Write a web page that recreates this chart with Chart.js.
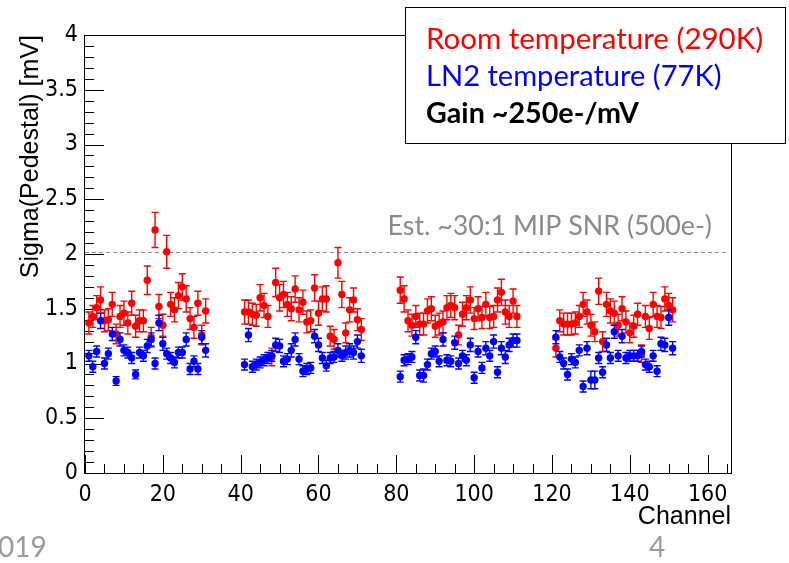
<!DOCTYPE html>
<html>
<head>
<meta charset="utf-8">
<script src="https://cdn.jsdelivr.net/npm/chart.js@4.4.0/dist/chart.umd.min.js"></script>
<style>
  html, body { margin: 0; padding: 0; background: #fff; }
  #wrap { width: 789px; height: 563px; }
</style>
</head>
<body>
<div id="wrap"><canvas id="pedChart" width="789" height="563"></canvas></div>
<script>
// channel numbers (4 chips x 31 channels)
const channels = [
  1, 2, 3, 4, 5, 6, 7, 8, 9, 10, 11, 12, 13, 14, 15, 16, 17, 18, 19, 20, 21, 22, 23, 24, 25, 26, 27, 28, 29, 30, 31,
  41, 42, 43, 44, 45, 46, 47, 48, 49, 50, 51, 52, 53, 54, 55, 56, 57, 58, 59, 60, 61, 62, 63, 64, 65, 66, 67, 68, 69, 70, 71,
  81, 82, 83, 84, 85, 86, 87, 88, 89, 90, 91, 92, 93, 94, 95, 96, 97, 98, 99, 100, 101, 102, 103, 104, 105, 106, 107, 108, 109, 110, 111,
  121, 122, 123, 124, 125, 126, 127, 128, 129, 130, 131, 132, 133, 134, 135, 136, 137, 138, 139, 140, 141, 142, 143, 144, 145, 146, 147, 148, 149, 150, 151
];

// room temperature (290K), sigma in mV
const roomSigma = [
  1.37, 1.43, 1.51, 1.58, 1.39, 1.40, 1.54, 1.27, 1.43, 1.46, 1.37, 1.55, 1.34, 1.39, 1.39, 1.76, 1.24, 2.22, 1.52, 1.35, 2.02, 1.54, 1.49, 1.62, 1.70, 1.59, 1.41, 1.33, 1.55, 1.26, 1.48,
  1.47, 1.47, 1.45, 1.44, 1.60, 1.53, 1.43, 1.06, 1.74, 1.60, 1.63, 1.54, 1.50, 1.68, 1.49, 1.56, 1.38, 1.39, 1.69, 1.46, 1.59, 1.59, 1.25, 1.22, 1.92, 1.63, 1.28, 1.49, 1.58, 1.40, 1.31,
  1.67, 1.59, 1.39, 1.35, 1.43, 1.36, 1.36, 1.48, 1.50, 1.34, 1.36, 1.38, 1.51, 1.53, 1.51, 1.26, 1.45, 1.51, 1.58, 1.41, 1.50, 1.42, 1.54, 1.42, 1.43, 1.58, 1.65, 1.47, 1.43, 1.57, 1.43,
  1.14, 1.39, 1.36, 1.36, 1.36, 1.37, 1.43, 1.54, 1.47, 1.35, 1.29, 1.66, 1.20, 1.54, 1.48, 1.46, 1.35, 1.50, 1.38, 1.28, 1.34, 1.45, 1.09, 1.43, 1.32, 1.54, 1.43, 1.42, 1.59, 1.53, 1.49
];
const roomErr = [
  0.10, 0.10, 0.11, 0.12, 0.10, 0.10, 0.11, 0.09, 0.10, 0.11, 0.10, 0.11, 0.10, 0.10, 0.10, 0.13, 0.09, 0.16, 0.11, 0.10, 0.15, 0.11, 0.11, 0.12, 0.12, 0.12, 0.10, 0.10, 0.11, 0.09, 0.11,
  0.11, 0.11, 0.10, 0.10, 0.12, 0.11, 0.10, 0.08, 0.13, 0.12, 0.12, 0.11, 0.11, 0.12, 0.11, 0.11, 0.10, 0.10, 0.12, 0.11, 0.11, 0.12, 0.09, 0.09, 0.14, 0.12, 0.09, 0.11, 0.11, 0.10, 0.10,
  0.12, 0.12, 0.10, 0.10, 0.10, 0.10, 0.10, 0.11, 0.11, 0.10, 0.10, 0.10, 0.11, 0.11, 0.11, 0.09, 0.11, 0.11, 0.12, 0.10, 0.11, 0.10, 0.11, 0.10, 0.10, 0.11, 0.12, 0.11, 0.10, 0.11, 0.10,
  0.08, 0.10, 0.10, 0.10, 0.10, 0.10, 0.10, 0.11, 0.11, 0.10, 0.09, 0.12, 0.09, 0.11, 0.11, 0.11, 0.10, 0.11, 0.10, 0.09, 0.10, 0.10, 0.08, 0.10, 0.10, 0.11, 0.10, 0.10, 0.11, 0.11, 0.11
];

// LN2 temperature (77K), sigma in mV
const ln2Sigma = [
  1.07, 0.97, 1.11, 1.39, 1.00, 1.09, 1.27, 0.84, 1.22, 1.12, 1.10, 1.05, 0.90, 1.10, 1.07, 1.16, 1.22, 1.00, 1.37, 1.18, 1.09, 1.05, 1.01, 1.10, 1.10, 1.22, 0.95, 1.02, 0.95, 1.24, 1.12,
  0.99, 1.26, 0.97, 0.99, 1.01, 1.03, 1.05, 1.07, 1.17, 1.16, 1.02, 1.04, 1.12, 1.22, 1.04, 0.93, 0.95, 0.96, 1.25, 1.17, 1.05, 0.98, 1.05, 1.06, 1.12, 1.07, 1.10, 1.12, 1.10, 1.20, 1.07,
  0.88, 1.03, 1.04, 1.06, 1.24, 0.89, 0.89, 0.99, 1.09, 1.11, 1.02, 1.22, 1.03, 1.02, 1.19, 1.00, 1.07, 1.03, 1.17, 0.87, 1.11, 0.96, 1.14, 1.07, 1.20, 0.92, 1.14, 1.06, 1.17, 1.21, 1.21,
  1.24, 1.06, 1.00, 0.90, 1.04, 1.01, 1.12, 0.79, 1.14, 0.85, 0.85, 1.05, 0.92, 1.17, 1.05, 1.29, 1.07, 1.25, 1.05, 1.07, 1.07, 1.07, 1.11, 0.99, 0.97, 1.07, 0.93, 1.18, 1.17, 1.42, 1.14
];
const ln2Err = [
  0.05, 0.05, 0.05, 0.07, 0.05, 0.05, 0.06, 0.04, 0.06, 0.05, 0.05, 0.05, 0.04, 0.05, 0.05, 0.06, 0.06, 0.05, 0.07, 0.06, 0.05, 0.05, 0.05, 0.05, 0.05, 0.06, 0.05, 0.05, 0.05, 0.06, 0.06,
  0.05, 0.06, 0.05, 0.05, 0.05, 0.05, 0.05, 0.05, 0.06, 0.06, 0.05, 0.05, 0.06, 0.06, 0.05, 0.05, 0.05, 0.05, 0.06, 0.06, 0.05, 0.05, 0.05, 0.05, 0.06, 0.05, 0.06, 0.06, 0.06, 0.06, 0.06,
  0.05, 0.05, 0.05, 0.05, 0.06, 0.05, 0.06, 0.05, 0.05, 0.05, 0.05, 0.06, 0.05, 0.05, 0.06, 0.05, 0.05, 0.05, 0.06, 0.05, 0.05, 0.05, 0.06, 0.05, 0.06, 0.05, 0.06, 0.06, 0.06, 0.06, 0.06,
  0.06, 0.05, 0.05, 0.05, 0.05, 0.05, 0.05, 0.05, 0.06, 0.08, 0.08, 0.05, 0.05, 0.06, 0.05, 0.06, 0.05, 0.06, 0.05, 0.05, 0.05, 0.05, 0.05, 0.05, 0.05, 0.05, 0.05, 0.06, 0.06, 0.07, 0.06
];

const xTickValues = [0, 20, 40, 60, 80, 100, 120, 140, 160];
const yTickValues = [0, 0.5, 1, 1.5, 2, 2.5, 3, 3.5, 4];
const snrLevel = 2.02;   // ~500e- at 250e-/mV

const legendLines = [
  { text: 'Room temperature (290K)', color: '#ff0000', bold: false },
  { text: 'LN2 temperature (77K)', color: '#0000ff', bold: false },
  { text: 'Gain ~250e-/mV', color: '#000000', bold: true }
];

// fit text to a pixel width (slide text)
function fitFont(ctx, text, width, weight, family) {
  ctx.font = weight + ' 100px ' + family;
  const size = 100 * width / ctx.measureText(text).width;
  return weight + ' ' + size.toFixed(1) + 'px ' + family;
}

// error bars, drawn just before each dataset's markers
const errorBars = {
  id: 'errorBars',
  beforeDatasetDraw(chart, args) {
    const ds = chart.data.datasets[args.index];
    if (!ds.errors) return;
    const y = chart.scales.y;
    const ctx = chart.ctx;
    ctx.save();
    ctx.strokeStyle = ds.errColor;
    ctx.lineWidth = 1.4;
    args.meta.data.forEach((pt, i) => {
      const v = ds.data[i].y, e = ds.errors[i];
      const top = y.getPixelForValue(v + e), bot = y.getPixelForValue(v - e);
      ctx.beginPath();
      ctx.moveTo(pt.x, top); ctx.lineTo(pt.x, bot);
      ctx.moveTo(pt.x - 3.5, top); ctx.lineTo(pt.x + 3.5, top);
      ctx.moveTo(pt.x - 3.5, bot); ctx.lineTo(pt.x + 3.5, bot);
      ctx.stroke();
    });
    ctx.restore();
  }
};

// ROOT-like frame, inward ticks, dashed line, legend box and slide text
const rootFrame = {
  id: 'rootFrame',
  beforeDatasetsDraw(chart) {
    const { ctx, chartArea: a, scales: { x, y } } = chart;
    ctx.save();
    ctx.strokeStyle = '#000';
    ctx.lineWidth = 1;
    ctx.strokeRect(a.left - 0.5, a.top + 0.5, a.right - a.left + 1, a.bottom - a.top);
    ctx.beginPath();
    for (let k = 0; k <= 40; k++) {
      const py = Math.round(y.getPixelForValue(k / 10)) + 0.5;
      const len = k % 5 === 0 ? 19 : 9;
      ctx.moveTo(a.left, py); ctx.lineTo(a.left + len, py);
    }
    for (let c = 0; c <= x.max; c += 5) {
      const px = Math.round(x.getPixelForValue(c)) + 0.5;
      const len = c % 20 === 0 ? 18 : 9;
      ctx.moveTo(px, a.bottom); ctx.lineTo(px, a.bottom - len);
    }
    ctx.stroke();

    const sy = Math.round(y.getPixelForValue(snrLevel)) + 0.5;
    ctx.strokeStyle = '#8c8c8c';
    ctx.setLineDash([4, 3]);
    ctx.beginPath();
    ctx.moveTo(a.left, sy); ctx.lineTo(a.right - 2, sy);
    ctx.stroke();
    ctx.setLineDash([]);

    ctx.fillStyle = '#8a8a8a';
    ctx.font = fitFont(ctx, 'Est. ~30:1 MIP SNR (500e-)', 324, 'normal', 'Lato');
    ctx.textAlign = 'right';
    ctx.textBaseline = 'alphabetic';
    ctx.fillText('Est. ~30:1 MIP SNR (500e-)', 712, sy - 18);
    ctx.restore();
  },
  afterDraw(chart) {
    const ctx = chart.ctx;
    ctx.save();
    ctx.fillStyle = '#fff';
    ctx.fillRect(405, 7, 380, 136);
    ctx.strokeStyle = '#000';
    ctx.lineWidth = 1;
    ctx.strokeRect(405.5, 7.5, 380, 136);
    const widths = [337, 295, 213];
    const baselines = [49, 86, 123];
    ctx.textAlign = 'left';
    ctx.textBaseline = 'alphabetic';
    legendLines.forEach((ln, i) => {
      ctx.font = fitFont(ctx, ln.text, widths[i], ln.bold ? 'bold' : 'normal', 'Lato');
      ctx.fillStyle = ln.color;
      ctx.fillText(ln.text, 426, baselines[i]);
    });

    ctx.fillStyle = '#9a9a9a';
    ctx.font = 'normal 28px Lato';
    ctx.fillText('019', -2, 557);
    ctx.fillText('4', 649, 557);
    ctx.restore();
  }
};

const ctx = document.getElementById('pedChart').getContext('2d');
const tickFont = { family: '"Liberation Sans Narrow", "DejaVu Sans Condensed", sans-serif', size: 23 };
const titleFont = { family: '"Liberation Sans", Arial, sans-serif', size: 25 };

new Chart(ctx, {
  type: 'scatter',
  data: {
    datasets: [
      {
        label: 'LN2 temperature (77K)',
        data: channels.map((c, i) => ({ x: c, y: ln2Sigma[i] })),
        errors: ln2Err,
        errColor: '#0000ff',
        backgroundColor: '#0000ff',
        borderWidth: 0,
        pointRadius: 3.7,
        order: 1
      },
      {
        label: 'Room temperature (290K)',
        data: channels.map((c, i) => ({ x: c, y: roomSigma[i] })),
        errors: roomErr,
        errColor: '#ff0000',
        backgroundColor: '#ff0000',
        borderWidth: 0,
        pointRadius: 3.7,
        order: 2
      }
    ]
  },
  options: {
    responsive: false,
    animation: false,
    layout: { padding: { top: 35, right: 58, left: 0, bottom: 0 } },
    plugins: {
      legend: { display: false },
      title: { display: false },
      tooltip: { enabled: false }
    },
    scales: {
      x: {
        type: 'linear',
        min: 0,
        max: 166,
        afterBuildTicks: s => { s.ticks = xTickValues.map(v => ({ value: v })); },
        afterFit: s => { s.height = 90; },
        grid: { display: false, drawTicks: false },
        border: { display: false },
        ticks: {
          autoSkip: false,
          maxRotation: 0,
          padding: 8,
          color: '#000',
          font: tickFont,
          callback: v => String(v)
        },
        title: {
          display: true,
          text: 'Channel',
          align: 'end',
          color: '#000',
          padding: { top: 0, bottom: 31 },
          font: titleFont
        }
      },
      y: {
        min: 0,
        max: 4,
        afterBuildTicks: s => { s.ticks = yTickValues.map(v => ({ value: v })); },
        afterFit: s => { s.width = 85; },
        grid: { display: false, drawTicks: false },
        border: { display: false },
        ticks: {
          padding: 7,
          color: '#000',
          font: tickFont,
          callback: v => String(v)
        },
        title: {
          display: true,
          text: 'Sigma(Pedestal) [mV]',
          align: 'end',
          color: '#000',
          padding: { top: 16, bottom: 0 },
          font: titleFont
        }
      }
    }
  },
  plugins: [errorBars, rootFrame]
});
</script>
</body>
</html>
